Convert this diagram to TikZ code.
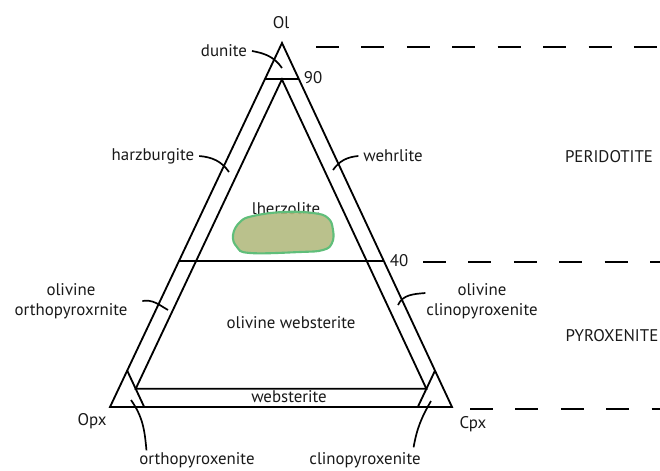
\documentclass[tikz,border=0pt]{standalone}
\usepackage{fontspec}
\setmainfont{PT Sans}
\usetikzlibrary{calc}
\definecolor{lherzfill}{RGB}{178,186,128}
\definecolor{lherzline}{RGB}{96,190,122}
\tikzset{
  lbl/.style={font=\fontsize{12}{14.5}\selectfont, text=black!90},
  tline/.style={line width=1.3pt},
  leader/.style={line width=1.2pt},
  zone/.style={line width=1.4pt, dash pattern=on 16.4pt off 15.9pt},
}
\begin{document}
\begin{tikzpicture}[x=0.025cm, y=-0.025cm]
\useasboundingbox (0,0) rectangle (660,470);
% corners of the triangle
\coordinate (ol) at (282,43);
\coordinate (opx) at (110,407);
\coordinate (cpx) at (452,407);

% outer triangle
\draw[tline] (ol) -- (opx) -- (cpx) -- cycle;

% olivine 90 and 40 lines
\draw[tline] (barycentric cs:ol=0.9,opx=0.1,cpx=0) -- (barycentric cs:ol=0.9,opx=0,cpx=0.1);
\draw[tline] (barycentric cs:ol=0.4,opx=0.6,cpx=0) -- (barycentric cs:ol=0.4,opx=0,cpx=0.6);

% inner triangle (5 percent lines)
\draw[tline] (barycentric cs:ol=0.9,opx=0.05,cpx=0.05) -- (barycentric cs:ol=0.05,opx=0.9,cpx=0.05)
  -- (barycentric cs:ol=0.05,opx=0.05,cpx=0.9) -- cycle;

% 90 opx and 90 cpx corners
\draw[tline] (barycentric cs:ol=0.1,opx=0.9,cpx=0) -- (barycentric cs:ol=0,opx=0.9,cpx=0.1);
\draw[tline] (barycentric cs:ol=0.1,opx=0,cpx=0.9) -- (barycentric cs:ol=0,opx=0.1,cpx=0.9);

% corner and value labels
\node[lbl] (olv) at (281,23) {Ol};
\node[lbl] (opxv) at (92,421) {Opx};
\node[lbl] (cpxv) at (473,424) {Cpx};
\node[lbl] (ninety) at (313,78) {90};
\node[lbl] (forty) at (399,261) {40};

% rock names
\node[lbl] (dun) at (224,51) {dunite};
\node[lbl] (harz) at (153,156) {harzburgite};
\node[lbl] (wehr) at (393,156) {wehrlite};
\node[lbl] (lherz) at (286,209) {lherzolite};
\node[lbl] (olweb) at (291,323) {olivine websterite};
\node[lbl] (web) at (289,397) {websterite};
\node[lbl, align=center] (olopx) at (71,301) {olivine\\orthopyroxrnite};
\node[lbl, align=center] (olcpx) at (482,301) {olivine\\clinopyroxenite};
\node[lbl] (orthopx) at (197,460) {orthopyroxenite};
\node[lbl] (clinopx) at (365,460) {clinopyroxenite};
\node[lbl] (perid) at (609,157) {PERIDOTITE};
\node[lbl] (pyrox) at (612,336) {PYROXENITE};

% leaders into the fields
\coordinate (dunend) at (282,68);
\coordinate (harzend) at (229,172);
\coordinate (wehrend) at (333,170);
\coordinate (olopxend) at (168,310);
\coordinate (olcpxend) at (398,305);
\coordinate (opxend) at (131,400);
\coordinate (cpxend) at (431,401);
\draw[leader] (dun.east) to[out=-10,in=125] (dunend);
\draw[leader] (harz.east) to[out=-5,in=125] (harzend);
\draw[leader] (wehr.west) to[out=185,in=55] (wehrend);
\draw[leader] ($(olopx.east)+(10,0)$) to[out=10,in=150] (olopxend);
\draw[leader] ($(olcpx.west)+(4,-8)$) to[out=185,in=65] (olcpxend);
\draw[leader] ($(orthopx.north west)+(12,3)$) to[out=95,in=-55] (opxend);
\draw[leader] ($(clinopx.north east)+(-12,0)$) to[out=80,in=-120] (cpxend);

% sample field
\draw[lherzline, line width=1.5pt, fill=lherzfill, fill opacity=0.9]
  plot[smooth cycle, tension=0.7] coordinates {(233,235) (240,222) (253,216) (283,212) (313,213)
  (328,218) (333,230) (332,243) (323,250) (300,252) (250,253) (237,247)};

% peridotite / pyroxenite boundaries
\draw[zone] (316,47) -- (660,47);
\draw[zone] (423,262) -- (660,262);
\draw[zone] (470,409) -- (660,409);
\end{tikzpicture}
\end{document}
